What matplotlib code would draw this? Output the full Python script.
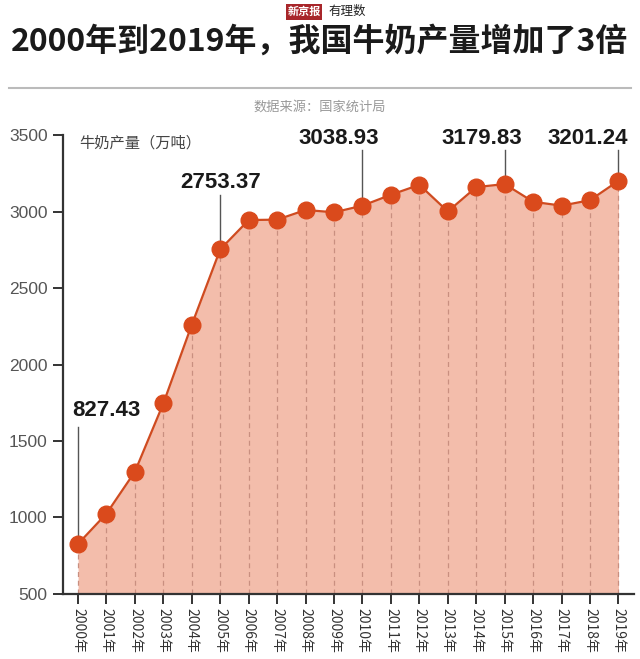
import numpy as np
import matplotlib
matplotlib.use('Agg')
import matplotlib.pyplot as plt

plt.rcParams['font.family'] = ['Noto Sans CJK SC', 'DejaVu Sans']

# data (万吨)
years = list(range(2000, 2020))
milk = [827.43, 1025.5, 1299.8, 1746.3, 2260.6, 2753.37, 2944.6, 2947.1, 3010.6, 2995.1,
        3038.93, 3109.9, 3174.9, 3000.8, 3159.9, 3179.83, 3064.0, 3038.6, 3074.6, 3201.24]
xlabels = ['%d年' % y for y in years]
yticks = [500, 1000, 1500, 2000, 2500, 3000, 3500]

# annotated points: year, label x, label y, line top
notes = [(2000, 2001.0, 1700, 1590),
         (2005, 2005.0, 3190, 3110),
         (2010, 2009.15, 3480, 3400),
         (2015, 2014.2, 3480, 3400),
         (2019, 2017.9, 3480, 3400)]

dot_col = '#da4a1c'
line_col = '#cf4b20'
fill_col = '#f3bdab'

fig = plt.figure(figsize=(6.4, 6.59), dpi=100)
ax = fig.add_axes([0.0984, 0.0987, 0.892, 0.6963])

ax.fill_between(years, milk, 500, color=fill_col, lw=0, zorder=1)
for x, v in zip(years, milk):
    ax.plot([x, x], [500, v], color='#c98f80', lw=0.9, ls=(0, (4, 3)), zorder=2)
ax.plot(years, milk, color=line_col, lw=1.6, zorder=3)
ax.plot(years, milk, 'o', color=dot_col, ms=12, zorder=4)

for yr, lx, ly, top in notes:
    v = milk[years.index(yr)]
    ax.plot([yr, yr], [v, top], color='#555555', lw=1.0, zorder=3)
    ax.text(lx, ly, '%.2f' % v, ha='center', va='center', fontsize=16,
            fontweight='bold', family=['Liberation Sans'], color='#1a1a1a')

ax.set_xlim(1999.47, 2019.54)
ax.set_ylim(500, 3500)
ax.set_xticks(years)
ax.set_xticklabels(xlabels, rotation=270, fontsize=10, color='#333333')
ax.set_yticks(yticks)
ax.set_yticklabels([str(t) for t in yticks], fontsize=12.5, color='#555555',
                   family=['Liberation Sans'])
ax.tick_params(axis='both', direction='out', length=7, width=1.4, color='#333333', pad=4)
ax.tick_params(axis='x', pad=3)
for s in ['top', 'right']:
    ax.spines[s].set_visible(False)
for s in ['left', 'bottom']:
    ax.spines[s].set_linewidth(1.6)
    ax.spines[s].set_color('#333333')

ax.text(2000.05, 3450, '牛奶产量（万吨）', fontsize=11, color='#444444', va='center')

# header
fig.text(0.5, 0.937, '2000年到2019年，我国牛奶产量增加了3倍', ha='center', va='center',
         fontsize=23, fontweight='bold', color='#1a1a1a')
fig.add_artist(plt.Line2D([0.014, 0.986], [0.866, 0.866], color='#bbbbbb', lw=1.5))
fig.text(0.5, 0.837, '数据来源：国家统计局', ha='center', va='center', fontsize=9.5, color='#999999')
fig.text(0.475, 0.982, '新京报', ha='center', va='center', fontsize=8, color='white',
         fontweight='bold', bbox=dict(boxstyle='square,pad=0.15', fc='#a8262a', ec='none'))
fig.text(0.543, 0.982, '有理数', ha='center', va='center', fontsize=9, color='#222222',
         style='italic')

fig.savefig('out.png', dpi=100)
